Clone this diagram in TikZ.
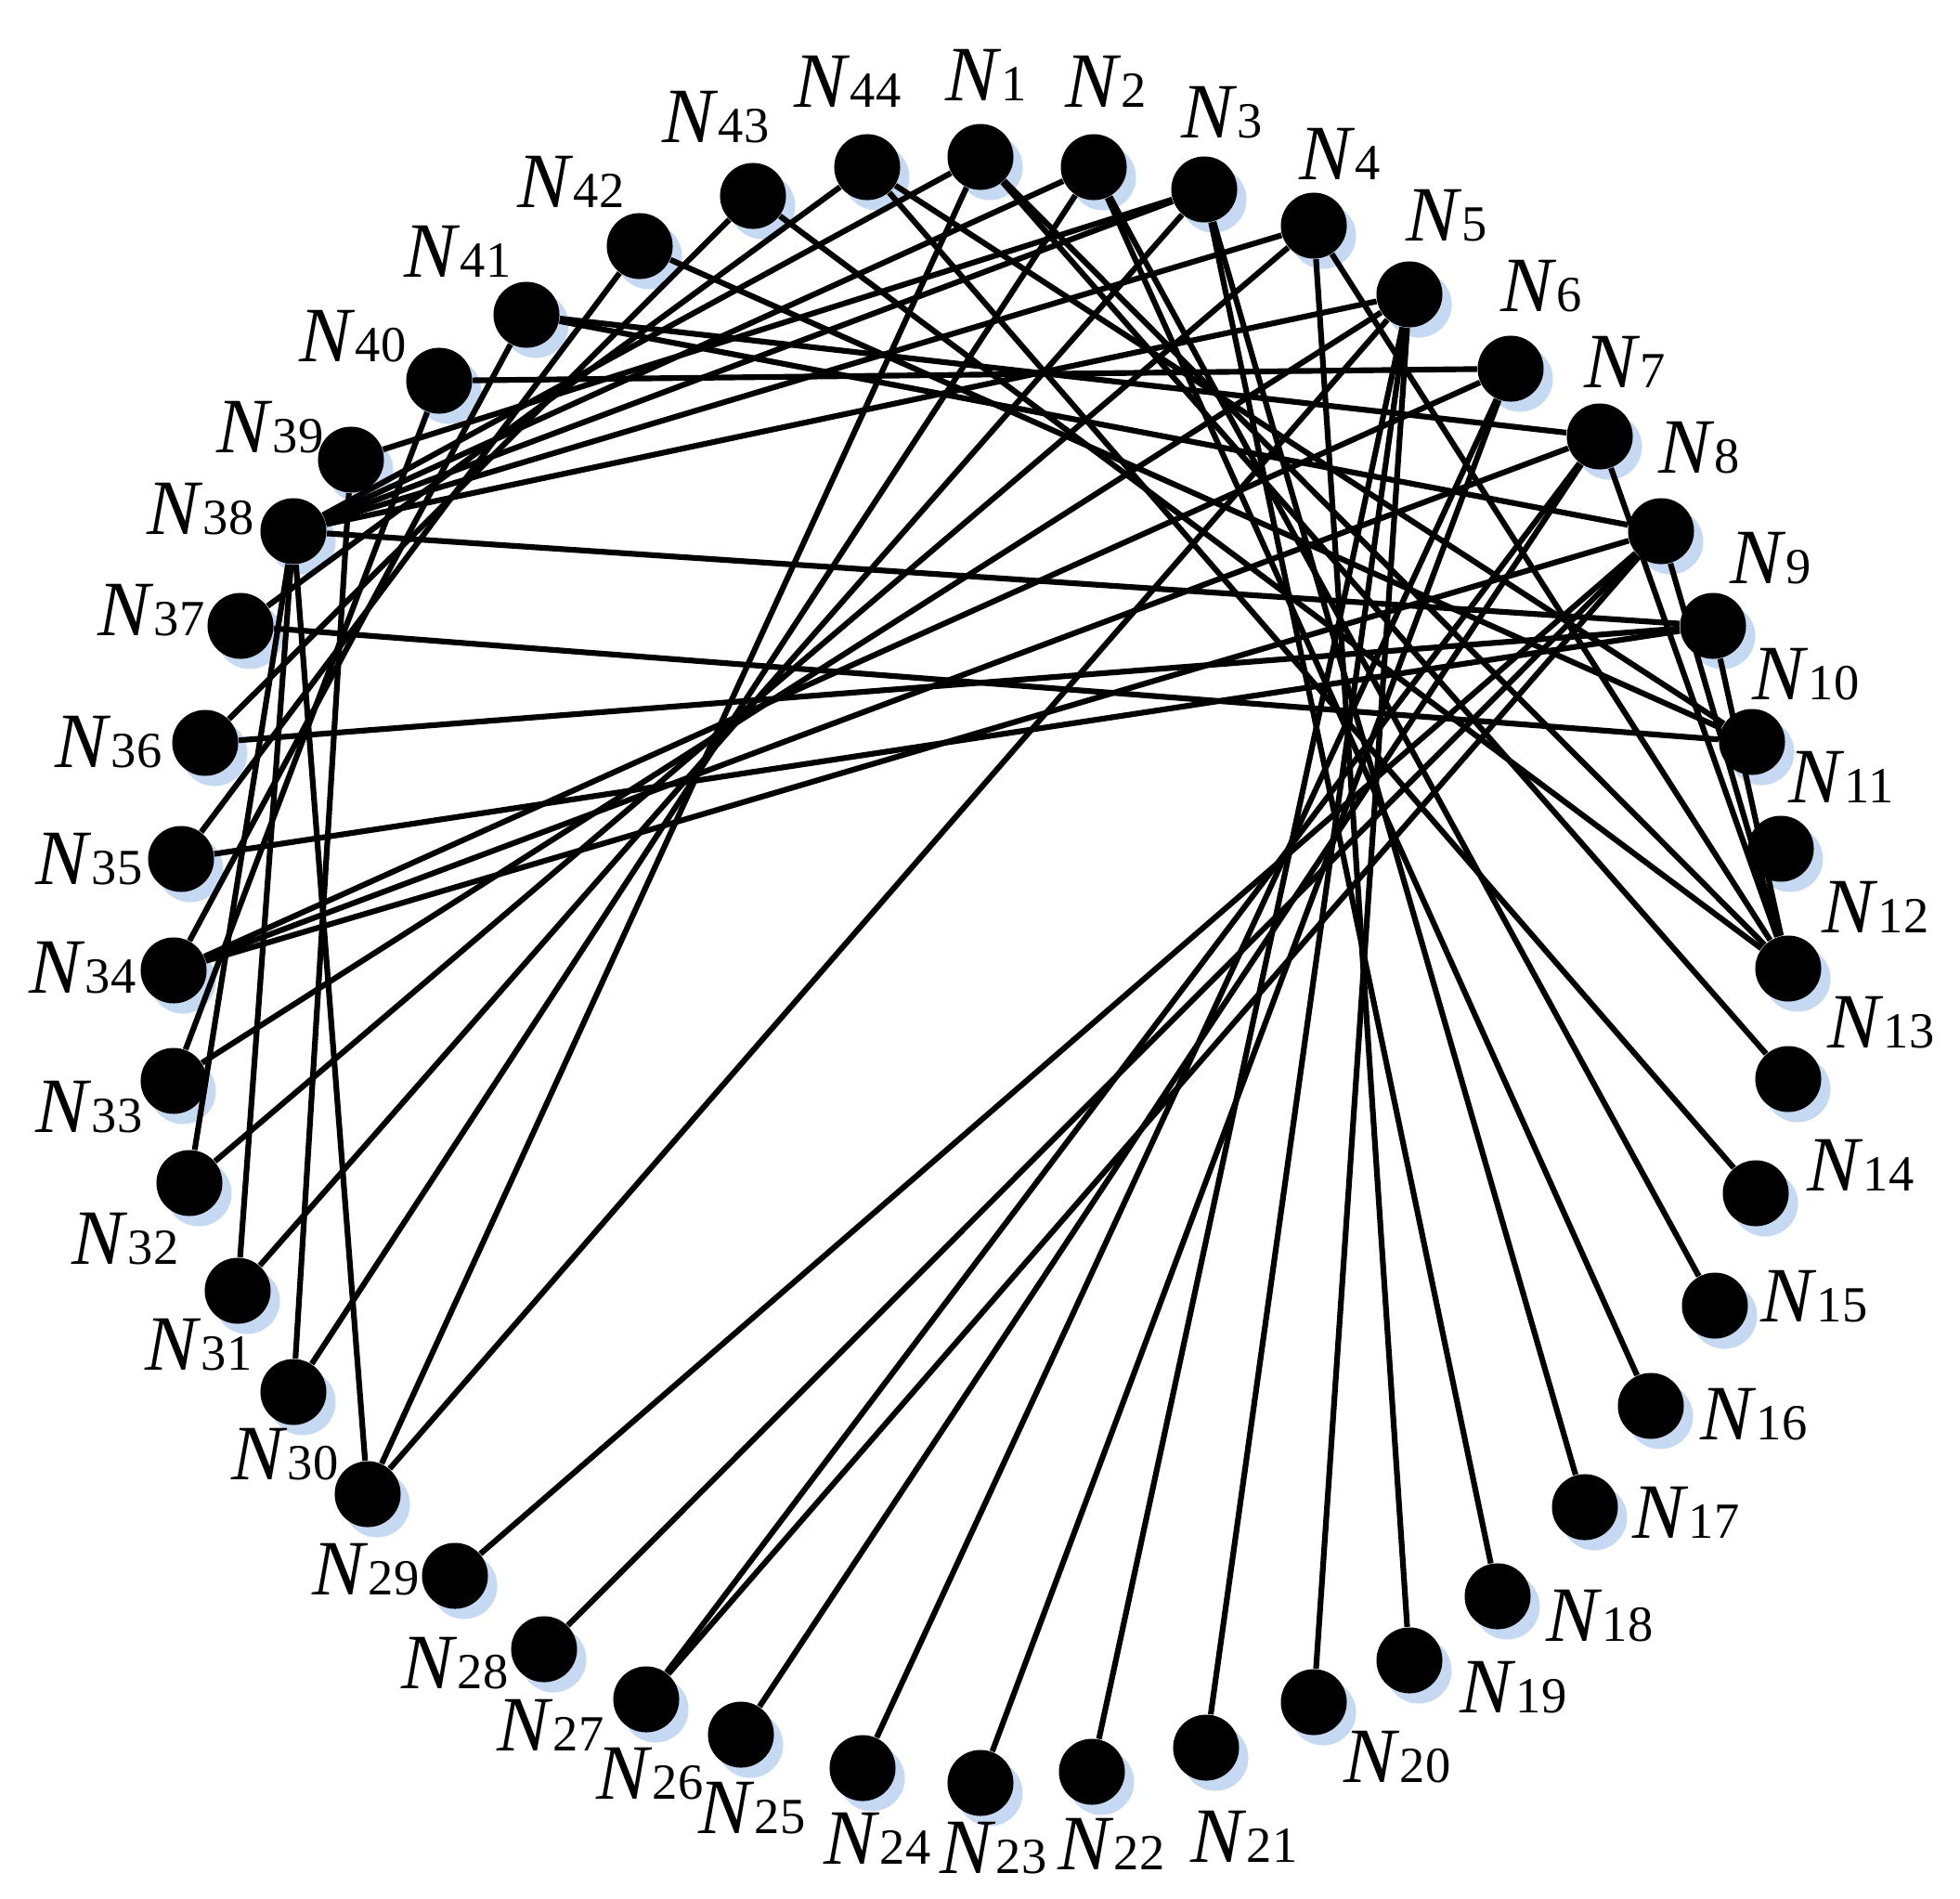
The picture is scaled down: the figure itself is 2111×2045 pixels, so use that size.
\documentclass[tikz,border=0pt]{standalone}
\usepackage{fontspec}
\setmainfont{Liberation Serif}
\usetikzlibrary{shadows}
\definecolor{halo}{RGB}{110,160,225}
\newcommand{\lab}[1]{\textit{N}{\fontsize{15.5}{15.5}\selectfont #1}}
\begin{document}
\begin{tikzpicture}[x=0.01cm,y=-0.01cm]
    \tikzstyle{dot}=[circle,fill=black,inner sep=0pt,minimum size=0.71cm,
        drop shadow={shadow xshift=0.1cm,shadow yshift=-0.11cm,fill=halo,opacity=0.4}]
    \tikzstyle{lab}=[inner sep=0pt,font=\fontsize{24}{24}\selectfont]
    \tikzstyle{edge}=[line width=1.75pt]
    \useasboundingbox (0,0) rectangle (2111,2045);
    % dots
    \node[dot] (n1) at (1056,169) {};
    \node[dot] (n2) at (1178,180) {};
    \node[dot] (n3) at (1297,204) {};
    \node[dot] (n4) at (1415,243) {};
    \node[dot] (n5) at (1518,317) {};
    \node[dot] (n6) at (1627,397) {};
    \node[dot] (n7) at (1723,470) {};
    \node[dot] (n8) at (1789,572) {};
    \node[dot] (n9) at (1845,674) {};
    \node[dot] (n10) at (1887,799) {};
    \node[dot] (n11) at (1918,914) {};
    \node[dot] (n12) at (1926,1043) {};
    \node[dot] (n13) at (1926,1162) {};
    \node[dot] (n14) at (1891,1285) {};
    \node[dot] (n15) at (1847,1406) {};
    \node[dot] (n16) at (1778,1514) {};
    \node[dot] (n17) at (1707,1623) {};
    \node[dot] (n18) at (1613,1719) {};
    \node[dot] (n19) at (1518,1788) {};
    \node[dot] (n20) at (1415,1833) {};
    \node[dot] (n21) at (1299,1882) {};
    \node[dot] (n22) at (1176,1908) {};
    \node[dot] (n23) at (1056,1920) {};
    \node[dot] (n24) at (929,1904) {};
    \node[dot] (n25) at (798,1868) {};
    \node[dot] (n26) at (696,1830) {};
    \node[dot] (n27) at (586,1776) {};
    \node[dot] (n28) at (490,1697) {};
    \node[dot] (n29) at (396,1609) {};
    \node[dot] (n30) at (316,1499) {};
    \node[dot] (n31) at (256,1390) {};
    \node[dot] (n32) at (204,1274) {};
    \node[dot] (n33) at (187,1164) {};
    \node[dot] (n34) at (187,1045) {};
    \node[dot] (n35) at (195,925) {};
    \node[dot] (n36) at (221,800) {};
    \node[dot] (n37) at (259,674) {};
    \node[dot] (n38) at (316,572) {};
    \node[dot] (n39) at (378,495) {};
    \node[dot] (n40) at (473,410) {};
    \node[dot] (n41) at (567,339) {};
    \node[dot] (n42) at (689,265) {};
    \node[dot] (n43) at (811,211) {};
    \node[dot] (n44) at (934,180) {};
    % labels
    \node[lab] (l1) at (1062,81) {\lab{1}};
    \node[lab] (l2) at (1191,88) {\lab{2}};
    \node[lab] (l3) at (1316,121) {\lab{3}};
    \node[lab] (l4) at (1443,166) {\lab{4}};
    \node[lab] (l5) at (1558,232) {\lab{5}};
    \node[lab] (l6) at (1660,308) {\lab{6}};
    \node[lab] (l7) at (1750,390) {\lab{7}};
    \node[lab] (l8) at (1830,482) {\lab{8}};
    \node[lab] (l9) at (1907,601) {\lab{9}};
    \node[lab] (l10) at (1945,726) {\lab{10}};
    \node[lab] (l11) at (1983,837) {\lab{11}};
    \node[lab] (l12) at (2020,977) {\lab{12}};
    \node[lab] (l13) at (2026,1101) {\lab{13}};
    \node[lab] (l14) at (2004,1255) {\lab{14}};
    \node[lab] (l15) at (1954,1396) {\lab{15}};
    \node[lab] (l16) at (1889,1523) {\lab{16}};
    \node[lab] (l17) at (1816,1629) {\lab{17}};
    \node[lab] (l18) at (1723,1740) {\lab{18}};
    \node[lab] (l19) at (1630,1817) {\lab{19}};
    \node[lab] (l20) at (1505,1892) {\lab{20}};
    \node[lab] (l21) at (1340,1978) {\lab{21}};
    \node[lab] (l22) at (1197,1986) {\lab{22}};
    \node[lab] (l23) at (1070,1990) {\lab{23}};
    \node[lab] (l24) at (945,1980) {\lab{24}};
    \node[lab] (l25) at (810,1947) {\lab{25}};
    \node[lab] (l26) at (700,1910) {\lab{26}};
    \node[lab] (l27) at (593,1858) {\lab{27}};
    \node[lab] (l28) at (490,1791) {\lab{28}};
    \node[lab] (l29) at (394,1690) {\lab{29}};
    \node[lab] (l30) at (307,1566) {\lab{30}};
    \node[lab] (l31) at (214,1448) {\lab{31}};
    \node[lab] (l32) at (135,1334) {\lab{32}};
    \node[lab] (l33) at (96,1192) {\lab{33}};
    \node[lab] (l34) at (89,1042) {\lab{34}};
    \node[lab] (l35) at (96,925) {\lab{35}};
    \node[lab] (l36) at (117,799) {\lab{36}};
    \node[lab] (l37) at (163,657) {\lab{37}};
    \node[lab] (l38) at (216,548) {\lab{38}};
    \node[lab] (l39) at (291,460) {\lab{39}};
    \node[lab] (l40) at (380,362) {\lab{40}};
    \node[lab] (l41) at (493,271) {\lab{41}};
    \node[lab] (l42) at (615,196) {\lab{42}};
    \node[lab] (l43) at (771,126) {\lab{43}};
    \node[lab] (l44) at (913,88) {\lab{44}};
    % links
    \draw[edge] (n1) -- (n29);
    \draw[edge] (n1) -- (n38);
    \draw[edge] (n1) -- (n12);
    \draw[edge] (n1) -- (n13);
    \draw[edge] (n2) -- (n30);
    \draw[edge] (n2) -- (n15);
    \draw[edge] (n2) -- (n16);
    \draw[edge] (n2) -- (n38);
    \draw[edge] (n3) -- (n17);
    \draw[edge] (n3) -- (n18);
    \draw[edge] (n3) -- (n31);
    \draw[edge] (n3) -- (n38);
    \draw[edge] (n3) -- (n39);
    \draw[edge] (n4) -- (n19);
    \draw[edge] (n4) -- (n32);
    \draw[edge] (n4) -- (n38);
    \draw[edge] (n4) -- (n12);
    \draw[edge] (n5) -- (n20);
    \draw[edge] (n5) -- (n21);
    \draw[edge] (n5) -- (n22);
    \draw[edge] (n5) -- (n29);
    \draw[edge] (n5) -- (n33);
    \draw[edge] (n5) -- (n38);
    \draw[edge] (n6) -- (n23);
    \draw[edge] (n6) -- (n24);
    \draw[edge] (n6) -- (n40);
    \draw[edge] (n6) -- (n34);
    \draw[edge] (n7) -- (n25);
    \draw[edge] (n7) -- (n26);
    \draw[edge] (n7) -- (n41);
    \draw[edge] (n7) -- (n34);
    \draw[edge] (n7) -- (n12);
    \draw[edge] (n8) -- (n26);
    \draw[edge] (n8) -- (n27);
    \draw[edge] (n8) -- (n28);
    \draw[edge] (n8) -- (n34);
    \draw[edge] (n8) -- (n41);
    \draw[edge] (n8) -- (n12);
    \draw[edge] (n9) -- (n35);
    \draw[edge] (n9) -- (n36);
    \draw[edge] (n9) -- (n38);
    \draw[edge] (n9) -- (n12);
    \draw[edge] (n10) -- (n37);
    \draw[edge] (n10) -- (n42);
    \draw[edge] (n10) -- (n44);
    \draw[edge] (n12) -- (n43);
    \draw[edge] (n14) -- (n44);
    \draw[edge] (n29) -- (n38);
    \draw[edge] (n30) -- (n39);
    \draw[edge] (n31) -- (n38);
    \draw[edge] (n32) -- (n38);
    \draw[edge] (n33) -- (n40);
    \draw[edge] (n34) -- (n41);
    \draw[edge] (n35) -- (n42);
    \draw[edge] (n36) -- (n43);
    \draw[edge] (n37) -- (n44);
\end{tikzpicture}
\end{document}
